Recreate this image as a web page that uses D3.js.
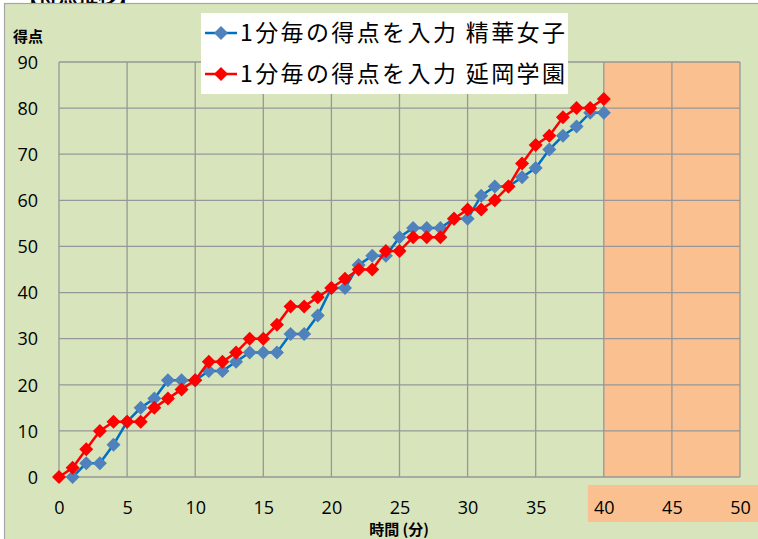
<!DOCTYPE html>
<html>
<head>
<meta charset="utf-8">
<script src="https://cdn.jsdelivr.net/npm/d3@7"></script>
<style>
  body { margin: 0; background: #fff; }
  svg { display: block; }
</style>
</head>
<body>
<div id="chart"></div>
<script>
// Data
const seikaMinutes = d3.range(1, 41);
const seikaScores = [0, 3, 3, 7, 12, 15, 17, 21, 21, 21,
    23, 23, 25, 27, 27, 27, 31, 31, 35, 41,
    41, 46, 48, 48, 52, 54, 54, 54, 56, 56,
    61, 63, 63, 65, 67, 71, 74, 76, 79, 79];
const nobeokaMinutes = d3.range(0, 41);
const nobeokaScores = [0, 2, 6, 10, 12, 12, 12, 15, 17, 19, 21,
    25, 25, 27, 30, 30, 33, 37, 37, 39, 41,
    43, 45, 45, 49, 49, 52, 52, 52, 56, 58,
    58, 60, 63, 68, 72, 74, 78, 80, 80, 82];
const xTicks = [0, 5, 10, 15, 20, 25, 30, 35, 40, 45, 50];
const yTicks = [0, 10, 20, 30, 40, 50, 60, 70, 80, 90];
const seriesNames = ["1分毎の得点を入力 精華女子", "1分毎の得点を入力 延岡学園"];

const width = 758;
const height = 539;
const margin = { top: 62, right: 18, bottom: 62, left: 59 };

const svg = d3.select("#chart")
    .append("svg")
    .attr("width", width)
    .attr("height", height);

// Title cut off at the top
svg.append("text")
    .attr("x", 18)
    .attr("y", 3)
    .style("font-family", "'Noto Sans CJK JP'")
    .style("font-weight", "bold")
    .style("font-size", "20px")
    .text("【得点推移】");

// Chart area
svg.append("rect")
    .attr("x", 4.5)
    .attr("y", 3.5)
    .attr("width", width)
    .attr("height", height)
    .attr("fill", "#D8E4BC")
    .attr("stroke", "#A6A6A6")
    .attr("stroke-width", 1.2);

const x = d3.scaleLinear()
    .domain([0, 50])
    .range([margin.left, width - margin.right]);

const y = d3.scaleLinear()
    .domain([0, 90])
    .range([height - margin.bottom, margin.top]);

// Orange zone after 40 min
svg.append("rect")
    .attr("x", x(40))
    .attr("y", y(90))
    .attr("width", x(50) - x(40))
    .attr("height", y(0) - y(90))
    .attr("fill", "#FAC090");
svg.append("rect")
    .attr("x", x(40) - 16)
    .attr("y", y(0) + 8)
    .attr("width", width - x(40) + 16)
    .attr("height", 37)
    .attr("fill", "#FAC090");

// Grid
svg.append("g")
    .selectAll("line")
    .data(xTicks)
    .join("line")
    .attr("x1", d => x(d))
    .attr("x2", d => x(d))
    .attr("y1", y(0))
    .attr("y2", y(90))
    .attr("stroke", "#979797")
    .attr("stroke-width", 1.3);
svg.append("g")
    .selectAll("line")
    .data(yTicks)
    .join("line")
    .attr("x1", x(0))
    .attr("x2", x(50))
    .attr("y1", d => y(d))
    .attr("y2", d => y(d))
    .attr("stroke", "#979797")
    .attr("stroke-width", 1.3);

// Axes labels
const xAxis = svg.append("g")
    .attr("transform", `translate(0,${y(0) + 37})`)
    .call(d3.axisBottom(x).tickValues(xTicks).tickSize(0).tickPadding(0));
const yAxis = svg.append("g")
    .attr("transform", `translate(${x(0) - 21},0)`)
    .call(d3.axisLeft(y).tickValues(yTicks).tickSize(0).tickPadding(0));
[xAxis, yAxis].forEach(g => {
    g.select(".domain").remove();
    g.selectAll("text")
        .style("font-family", "'Open Sans', sans-serif")
        .style("font-size", "18px")
        .attr("fill", "#000");
});
xAxis.selectAll("text").attr("dy", null);
yAxis.selectAll("text").attr("dy", "0.35em");

svg.append("text")
    .attr("x", 13)
    .attr("y", 42)
    .style("font-family", "'Noto Sans CJK JP'")
    .style("font-weight", "bold")
    .style("font-size", "15px")
    .text("得点");
svg.append("text")
    .attr("x", 399)
    .attr("y", 535)
    .attr("text-anchor", "middle")
    .style("font-family", "'Noto Sans CJK JP'")
    .style("font-weight", "bold")
    .style("font-size", "15px")
    .text("時間 (分)");

// Lines
const line = d3.line()
    .x(d => x(d[0]))
    .y(d => y(d[1]));
const diamond = d3.symbol().type(d3.symbolDiamond2).size(125);

function drawSeries(minutes, scores, lineColor, markerColor) {
    const pts = minutes.map((m, i) => [m, scores[i]]);
    svg.append("path")
        .datum(pts)
        .attr("d", line)
        .attr("fill", "none")
        .attr("stroke", lineColor)
        .attr("stroke-width", 2.5);
    svg.append("g")
        .selectAll("path")
        .data(pts)
        .join("path")
        .attr("transform", d => `translate(${x(d[0])},${y(d[1])})`)
        .attr("d", diamond)
        .attr("fill", markerColor);
}
drawSeries(seikaMinutes, seikaScores, "#0070C0", "#4F81BD");
drawSeries(nobeokaMinutes, nobeokaScores, "#FF0000", "#FF0000");

// Legend
const legend = svg.append("g");
legend.append("rect")
    .attr("x", 201)
    .attr("y", 13)
    .attr("width", 367)
    .attr("height", 81)
    .attr("fill", "#fff");
const legendColors = [["#0070C0", "#4F81BD"], ["#FF0000", "#FF0000"]];
seriesNames.forEach((name, i) => {
    const cy = 33 + i * 41;
    legend.append("line")
        .attr("x1", 205).attr("x2", 237)
        .attr("y1", cy).attr("y2", cy)
        .attr("stroke", legendColors[i][0])
        .attr("stroke-width", 2.5);
    legend.append("path")
        .attr("transform", `translate(221,${cy})`)
        .attr("d", diamond)
        .attr("fill", legendColors[i][1]);
    legend.append("text")
        .attr("x", 240)
        .attr("y", cy)
        .attr("dy", "0.36em")
        .attr("textLength", 325)
        .attr("lengthAdjust", "spacing")
        .style("font-family", "'Noto Sans CJK JP'")
        .style("font-size", "23px")
        .text(name);
});
</script>
</body>
</html>
